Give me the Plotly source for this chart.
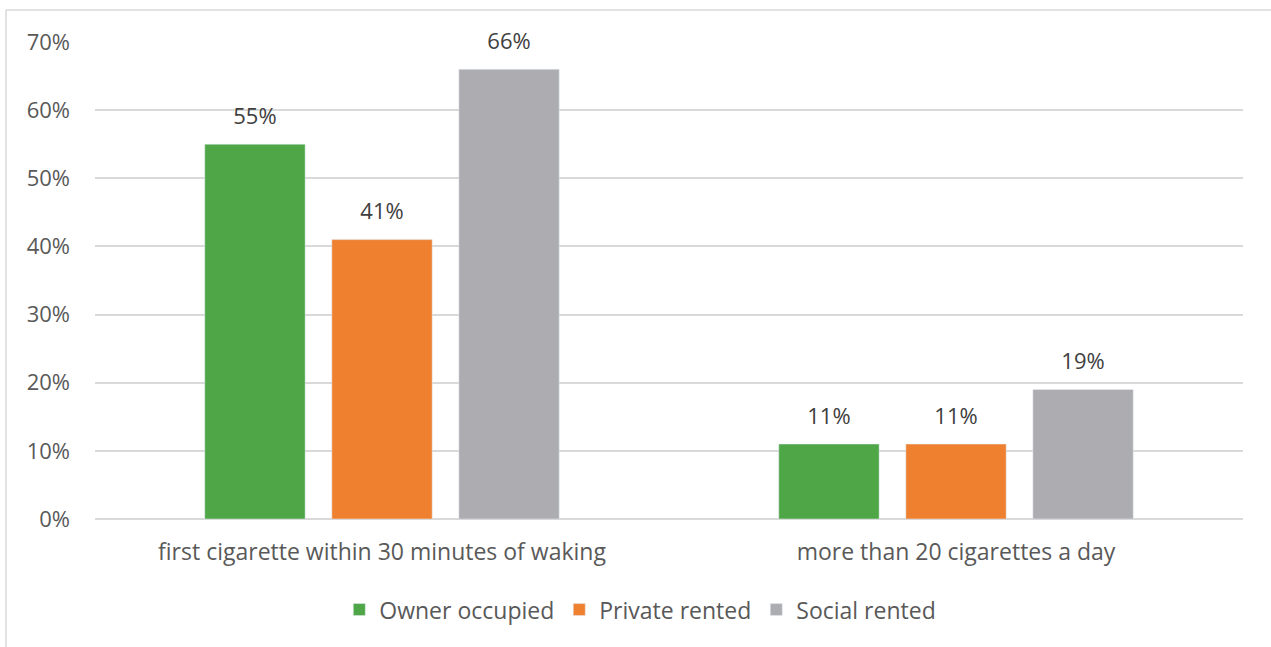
import plotly.graph_objects as go

categorias = ['first cigarette within 30 minutes of waking', 'more than 20 cigarettes a day']
series = ['Owner occupied', 'Private rented', 'Social rented']
valores = {
    'Owner occupied': [55, 11],
    'Private rented': [41, 11],
    'Social rented': [66, 19],
}
cores = ['#4ea646', '#ee8030', '#adadb1']
y_ticks = [0, 10, 20, 30, 40, 50, 60, 70]

FONTE = 'Open Sans'
CINZA = '#595959'

fig = go.Figure()
for nome, cor in zip(series, cores):
    fig.add_trace(go.Bar(x=categorias, y=valores[nome], name=nome, marker_color=cor,
                         offsetgroup=nome))

# rótulos como scatter agrupado, para controlar a distância até a barra
for nome in series:
    vals = valores[nome]
    fig.add_trace(go.Scatter(
        x=categorias, y=vals, mode='markers+text', offsetgroup=nome,
        text=[f'{v}%' for v in vals], textposition='top center',
        marker=dict(size=22, opacity=0), showlegend=False, hoverinfo='skip',
        textfont=dict(family=FONTE, size=22, color='#404040'), cliponaxis=False,
    ))

fig.update_layout(
    width=1271, height=647,
    plot_bgcolor='white', paper_bgcolor='white',
    barmode='group', bargap=0.336, bargroupgap=0.21,
    scattermode='group', scattergap=0.336,
    margin=dict(l=95, r=28, t=42, b=128),
    font=dict(family=FONTE, size=22, color=CINZA),
    legend=dict(orientation='h', xanchor='center', x=0.475, yanchor='middle', y=-0.19,
                font=dict(size=23, color=CINZA), itemwidth=30, traceorder='normal'),
    xaxis=dict(showline=False, ticks='', tickfont=dict(size=23, color=CINZA), ticklabelstandoff=17),
    yaxis=dict(range=[0, 70], tickvals=y_ticks, ticktext=[f'{t}%' for t in y_ticks],
               showgrid=True, gridcolor='#d9d9d9', gridwidth=1.5,
               zeroline=True, zerolinecolor='#d9d9d9', zerolinewidth=1.5,
               tickfont=dict(size=22, color=CINZA), ticklabelstandoff=24),
    shapes=[
        dict(type='line', xref='paper', yref='paper', x0=-0.0775, x1=1.2, y0=1.067, y1=1.067,
             line=dict(color='#d9d9d9', width=1.5)),
        dict(type='line', xref='paper', yref='paper', x0=-0.0775, x1=-0.0775, y0=1.067, y1=-0.4,
             line=dict(color='#d9d9d9', width=1.5)),
    ],
)

fig.write_html('out.html', config={'displayModeBar': False},
               post_script="document.body.style.margin='0';")
